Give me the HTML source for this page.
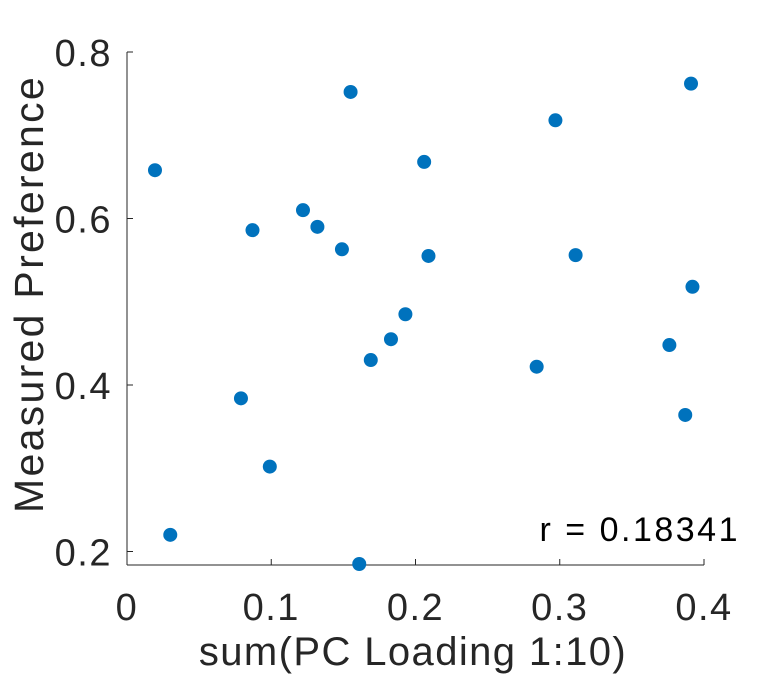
<!DOCTYPE html>
<html><head><meta charset="utf-8"><style>
body{margin:0;background:#fff;}
svg text{font-family:"Liberation Sans",sans-serif;fill:#262626;}
</style></head><body>
<svg width="776" height="678">
<g id="axes"></g>
<g id="pts"></g>
<text x="740" y="541" text-anchor="end" font-size="34" letter-spacing="2.5" style="fill:#000">r = 0.18341</text>
<text x="413" y="665" text-anchor="middle" font-size="40" letter-spacing="1.4">sum(PC Loading 1:10)</text>
<text transform="translate(43,294) rotate(-90)" text-anchor="middle" font-size="41" letter-spacing="2.3">Measured Preference</text>
</svg>
<script>
const xVals=[0.0194,0.030,0.079,0.099,0.087,0.122,0.132,0.149,0.155,0.161,0.169,0.183,0.193,0.206,0.209,0.284,0.297,0.311,0.376,0.387,0.391,0.392];
const yVals=[0.658,0.220,0.384,0.302,0.586,0.610,0.590,0.563,0.752,0.185,0.430,0.455,0.485,0.668,0.555,0.422,0.718,0.556,0.448,0.364,0.762,0.518];
const xTicks=[0,0.1,0.2,0.3,0.4];
const yTicks=[0.2,0.4,0.6,0.8];
const NS="http://www.w3.org/2000/svg";
const X0=127,X1=704,XMIN=0,XMAX=0.4,Y0=565,Y1=52,YMIN=0.1838,YMAX=0.8;
function sx(v){return X0+(v-XMIN)/(XMAX-XMIN)*(X1-X0);}
function sy(v){return Y0-(v-YMIN)/(YMAX-YMIN)*(Y0-Y1);}
function mk(t,a,p){const e=document.createElementNS(NS,t);for(const k in a)e.setAttribute(k,a[k]);p.appendChild(e);return e;}
const ax=document.getElementById('axes');
const xl=mk('line',{x1:X0,y1:Y0,x2:X1,y2:Y0,stroke:'#262626','stroke-width':1},ax);


const yl=mk('line',{x1:X0,y1:Y0,x2:X0,y2:Y1,stroke:'#262626','stroke-width':1},ax);


xTicks.forEach(t=>{const x=sx(t);
mk('line',{x1:x,y1:Y0,x2:x,y2:Y0-6,stroke:'#262626'},ax);
const tx=mk('text',{x:x,y:620,'text-anchor':'middle','font-size':38,'letter-spacing':1.5},ax);tx.textContent=String(t);

});
yTicks.forEach(t=>{const y=sy(t);
mk('line',{x1:X0,y1:y,x2:X0+6,y2:y,stroke:'#262626'},ax);
const tx=mk('text',{x:112,y:y+14,'text-anchor':'end','font-size':38,'letter-spacing':1.5},ax);tx.textContent=t.toFixed(1);

});
const pg=document.getElementById('pts');
xVals.forEach((v,i)=>{const c=mk('circle',{cx:sx(v),cy:sy(yVals[i]),r:7,fill:'#0072BD'},pg);

});
</script>
</body></html>
